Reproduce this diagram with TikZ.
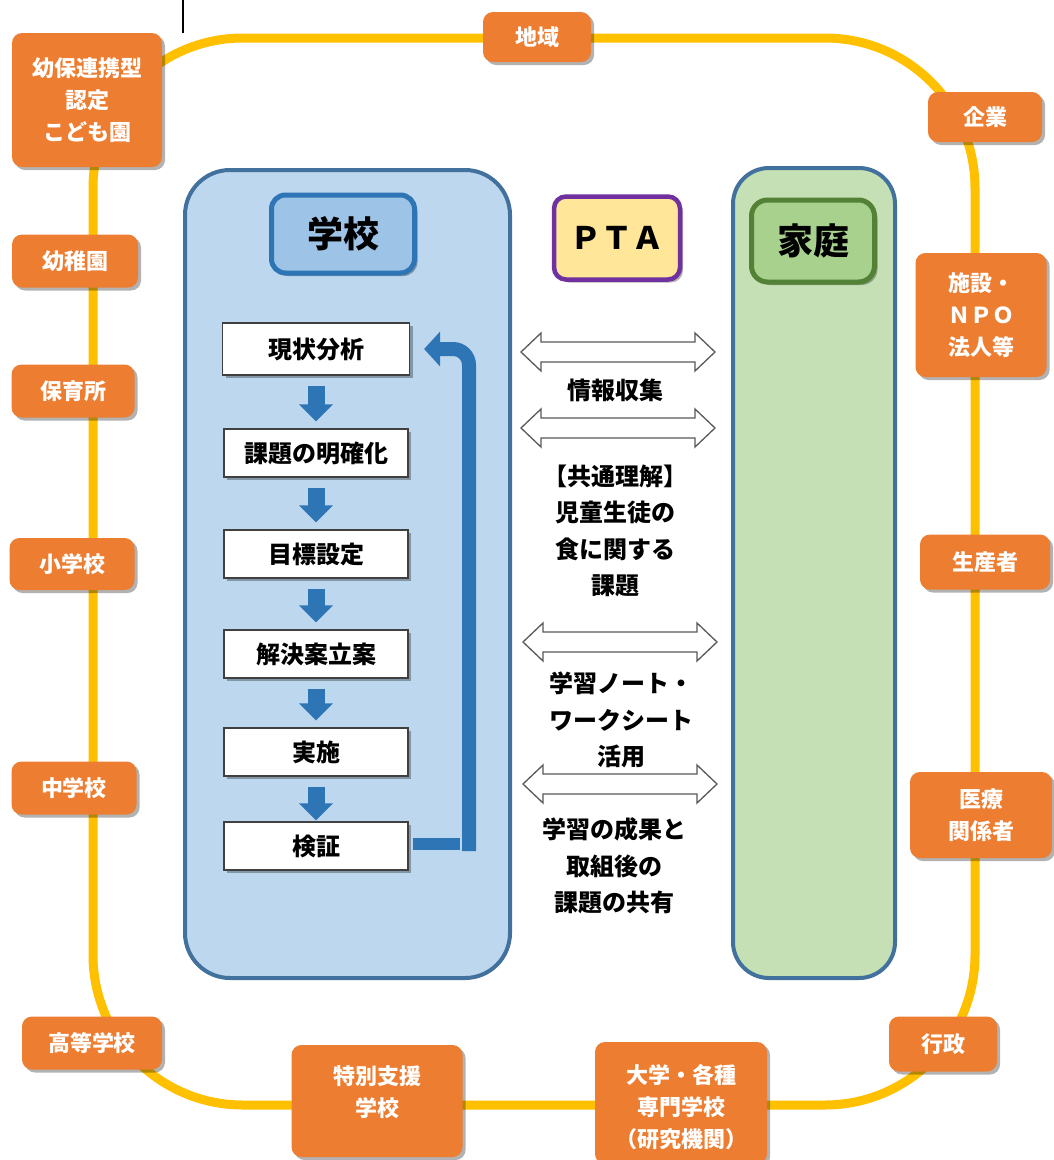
\documentclass[tikz,border=0pt]{standalone}
\usepackage{fontspec}
\setmainfont{Noto Sans CJK JP}
\usetikzlibrary{arrows.meta,shadows}
\definecolor{orng}{HTML}{ED7D31}
\definecolor{gold}{HTML}{FFC000}
\definecolor{pblue}{HTML}{BDD7EE}
\definecolor{pborder}{HTML}{41719C}
\definecolor{tblue}{HTML}{9DC3E6}
\definecolor{tbluebd}{HTML}{2E75B6}
\definecolor{pgreen}{HTML}{C5E0B4}
\definecolor{tgreen}{HTML}{A9D18E}
\definecolor{tgreenbd}{HTML}{538135}
\definecolor{ptafill}{HTML}{FFE699}
\definecolor{ptabd}{HTML}{7030A0}
\definecolor{arrowblue}{HTML}{2E75B6}
\definecolor{dgray}{HTML}{595959}
\newcommand\myfs[2]{\fontsize{#1}{#2}\selectfont}
\tikzset{
  myshadow/.style={drop shadow={shadow xshift=3pt, shadow yshift=-3pt, opacity=0.3, fill=black}},
  ring/.style={draw=gold, line width=9, rounded corners=150},
  obox/.style={fill=orng, rounded corners=10, inner sep=0, myshadow},
  otext/.style={text=white, font=\bfseries\myfs{22}{32}, align=center, inner sep=0},
  panel/.style={draw=pborder, line width=4, inner sep=0},
  titlebox/.style={line width=5, rounded corners=14, inner sep=0, font=\bfseries\myfs{36}{40}, myshadow},
  stepbox/.style={draw=black!75, fill=white, line width=1.2, minimum width=184, minimum height=48, inner sep=0, font=\bfseries\myfs{24}{26}, myshadow},
  downarr/.style={draw=arrowblue, line width=17, -{Triangle[width=33pt,length=17pt]}, shorten <=10, shorten >=7},
  loopbar/.style={draw=arrowblue, line width=14},
  midtext/.style={font=\bfseries\myfs{24}{36.5}, align=center, inner sep=0},
  dbl/.pic={\draw[dgray, fill=white, line width=1.3, line join=miter]
     (-97,0) -- (-77,-19) -- (-77,-10) -- (77,-10) -- (77,-19) -- (97,0)
     -- (77,19) -- (77,10) -- (-77,10) -- (-77,19) -- cycle;}
}
\begin{document}
\begin{tikzpicture}[x=1pt,y=-1pt]
\useasboundingbox (0,0) rectangle (1054,1160);
\fill[white] (0,0) rectangle (1054,1160);
% outer ring
\draw[ring] (93,38) rectangle (975,1105);
% small black line at top
\coordinate (tl0) at (183,0);
\coordinate (tl1) at (183,33);
\draw[line width=1.5] (tl0) -- (tl1);
% panels
\node[panel, fill=pblue, rounded corners=45, minimum width=325, minimum height=808] (school) at (347.5,574) {};
\node[panel, fill=pgreen, rounded corners=36, minimum width=162, minimum height=810] (home) at (814,573) {};
% titles
\node[titlebox, fill=tblue, draw=tbluebd, minimum width=143, minimum height=78] (tschool) at (343,234) {学校};
\node[titlebox, fill=tgreen, draw=tgreenbd, minimum width=123, minimum height=82, rounded corners=16] (thome) at (813,241) {家庭};
\node[titlebox, fill=ptafill, draw=ptabd, line width=4.5, minimum width=126, minimum height=83, rounded corners=12, font=\bfseries\myfs{31}{36}] (pta) at (617,238) {ＰＴＡ};
% steps
\node[stepbox, minimum width=187, minimum height=52] (s1) at (316,349) {現状分析};
\node[stepbox] (s2) at (316,453) {課題の明確化};
\node[stepbox] (s3) at (316,554) {目標設定};
\node[stepbox] (s4) at (316,654) {解決案立案};
\node[stepbox] (s5) at (316,752) {実施};
\node[stepbox] (s6) at (316,846) {検証};
\draw[downarr] (s1.south) -- (s2.north);
\draw[downarr] (s2.south) -- (s3.north);
\draw[downarr] (s3.south) -- (s4.north);
\draw[downarr] (s4.south) -- (s5.north);
\draw[downarr, shorten >=1] (s5.south) -- (s6.north);
% loop arrow
\coordinate (lh) at (460,844);
\coordinate (lb) at (469,851);
\coordinate (lt) at (469,349);
\draw[loopbar, line width=12] ([xshift=4pt,yshift=2pt]s6.east) -- (lh);
\draw[loopbar, rounded corners=16, -{Triangle[width=34pt,length=16pt]}] (lb) -- (lt) -- ([xshift=14pt]s1.east);
% double arrows
\pic (da1) at (618,352) {dbl};
\pic (da2) at (618,428) {dbl};
\pic (da3) at (620,642) {dbl};
\pic (da4) at (620,784) {dbl};
% middle texts
\node[midtext] (m1) at (615,390) {情報収集};
\node[midtext] (m2) at (615,531) {【共通理解】\\児童生徒の\\食に関する\\課題};
\node[midtext] (m3) at (621,720) {学習ノート・\\ワークシート\\活用};
\node[midtext] (m4) at (614,866) {学習の成果と\\取組後の\\課題の共有};
% orange boxes
\node[obox, minimum width=150, minimum height=134] (o1) at (87,100) {};
\node[otext] at (o1) {幼保連携型\\認定\\こども園};
\node[obox, minimum width=108, minimum height=50] (o2) at (537,37) {};
\node[otext] at (o2) {地域};
\node[obox, minimum width=114, minimum height=50] (o3) at (985,117) {};
\node[otext] at (o3) {企業};
\node[obox, minimum width=126, minimum height=53] (o4) at (75,261) {};
\node[otext] at (o4) {幼稚園};
\node[obox, minimum width=131, minimum height=124] (o5) at (981,315) {};
\node[otext] at (o5) {施設・\\ＮＰＯ\\法人等};
\node[obox, minimum width=123, minimum height=53] (o6) at (73,391) {};
\node[otext] at (o6) {保育所};
\node[obox, minimum width=125, minimum height=52] (o7) at (72,564) {};
\node[otext] at (o7) {小学校};
\node[obox, minimum width=130, minimum height=55] (o8) at (985,562) {};
\node[otext] at (o8) {生産者};
\node[obox, minimum width=125, minimum height=53] (o9) at (74,788) {};
\node[otext] at (o9) {中学校};
\node[obox, minimum width=142, minimum height=86] (o10) at (981,815) {};
\node[otext] at (o10) {医療\\関係者};
\node[obox, minimum width=140, minimum height=53] (o11) at (92,1043) {};
\node[otext] at (o11) {高等学校};
\node[obox, minimum width=171, minimum height=112] (o12) at (377,1101) {};
\node[otext] at (377,1092) {特別支援\\学校};
\node[obox, minimum width=172, minimum height=122] (o13) at (681,1103) {};
\node[otext] at (681,1107) {大学・各種\\専門学校\\（研究機関）};
\node[obox, minimum width=108, minimum height=55] (o14) at (943,1044) {};
\node[otext] at (o14) {行政};
\end{tikzpicture}
\end{document}
